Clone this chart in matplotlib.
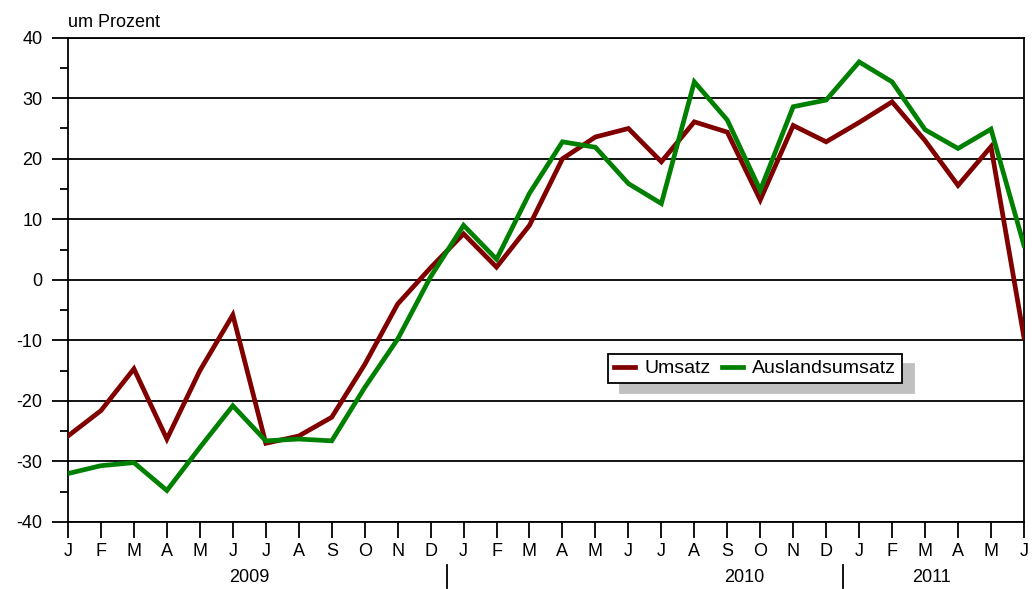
import matplotlib
matplotlib.use("Agg")
import matplotlib.pyplot as plt
import numpy as np

plt.rcParams["font.family"] = ["Liberation Sans", "DejaVu Sans"]
plt.rcParams["axes.unicode_minus"] = False

# monthly change, Jan 2009 .. Jun 2011
months = ["J", "F", "M", "A", "M", "J", "J", "A", "S", "O", "N", "D",
          "J", "F", "M", "A", "M", "J", "J", "A", "S", "O", "N", "D",
          "J", "F", "M", "A", "M", "J"]
umsatz = [-25.8, -21.6, -14.7, -26.3, -15.0, -5.8, -27.0, -25.8, -22.7, -14.0,
          -4.0, 2.0, 7.6, 2.1, 9.0, 20.0, 23.6, 25.0, 19.5, 26.1,
          24.4, 13.2, 25.5, 22.8, 26.0, 29.4, 23.0, 15.6, 22.0, -9.5]
ausland = [-32.0, -30.7, -30.2, -34.8, -27.7, -20.8, -26.6, -26.3, -26.6, -17.8,
           -9.8, 0.5, 9.0, 3.4, 14.3, 22.8, 21.9, 15.9, 12.6, 32.7,
           26.4, 14.8, 28.6, 29.7, 36.0, 32.7, 24.8, 21.7, 24.9, 5.7]
years = ["2009", "2010", "2011"]
year_pos = [5.5, 20.5, 26.2]
year_breaks = [11.5, 23.5]

x = np.arange(len(months))

fig = plt.figure(figsize=(10.32, 5.89), dpi=100)
ax = fig.add_axes([0.0659, 0.1138, 0.9263, 0.8222])

ax.plot(x, umsatz, color="#800000", lw=3.4, label="Umsatz", solid_joinstyle="miter", zorder=3)
ax.plot(x, ausland, color="#008000", lw=3.4, label="Auslandsumsatz", solid_joinstyle="miter", zorder=3)

ax.set_xlim(0, len(months) - 1)
ax.set_ylim(-40, 40)
ax.set_yticks(np.arange(-40, 41, 10))
ax.set_yticks(np.arange(-35, 40, 10), minor=True)
ax.set_xticks(x)
ax.set_xticklabels(months)

ax.grid(axis="y", which="major", color="black", lw=1.3)
ax.set_axisbelow(True)
for s in ax.spines.values():
    s.set_color("black")
    s.set_linewidth(1.3)

ax.tick_params(axis="y", which="major", length=11.5, width=1.3, pad=7, labelsize=13)
ax.tick_params(axis="y", which="minor", length=6, width=1.3)
ax.tick_params(axis="x", length=11.5, width=1.3, pad=4, labelsize=13)

tr = ax.get_xaxis_transform()
for xb in year_breaks:
    ax.plot([xb, xb], [-0.089, -0.136], color="black", lw=1.3, transform=tr, clip_on=False)
for yp, yl in zip(year_pos, years):
    ax.text(yp, -0.114, yl, transform=tr, ha="center", va="center", fontsize=13)

ax.text(0, 1.032, "um Prozent", transform=ax.transAxes, ha="left", va="center", fontsize=13)

leg = ax.legend(loc="upper left", bbox_to_anchor=(0.565, 0.347), ncol=2, fontsize=14,
                frameon=True, fancybox=False, handlelength=1.1, handletextpad=0.45,
                columnspacing=0.6, borderpad=0.3, borderaxespad=0,
                shadow={"ox": 8.6, "oy": -7.2, "color": "#c0c0c0", "alpha": 1})
leg.get_frame().set_edgecolor("black")
leg.get_frame().set_linewidth(1.3)

fig.savefig("out.png", dpi=100)
